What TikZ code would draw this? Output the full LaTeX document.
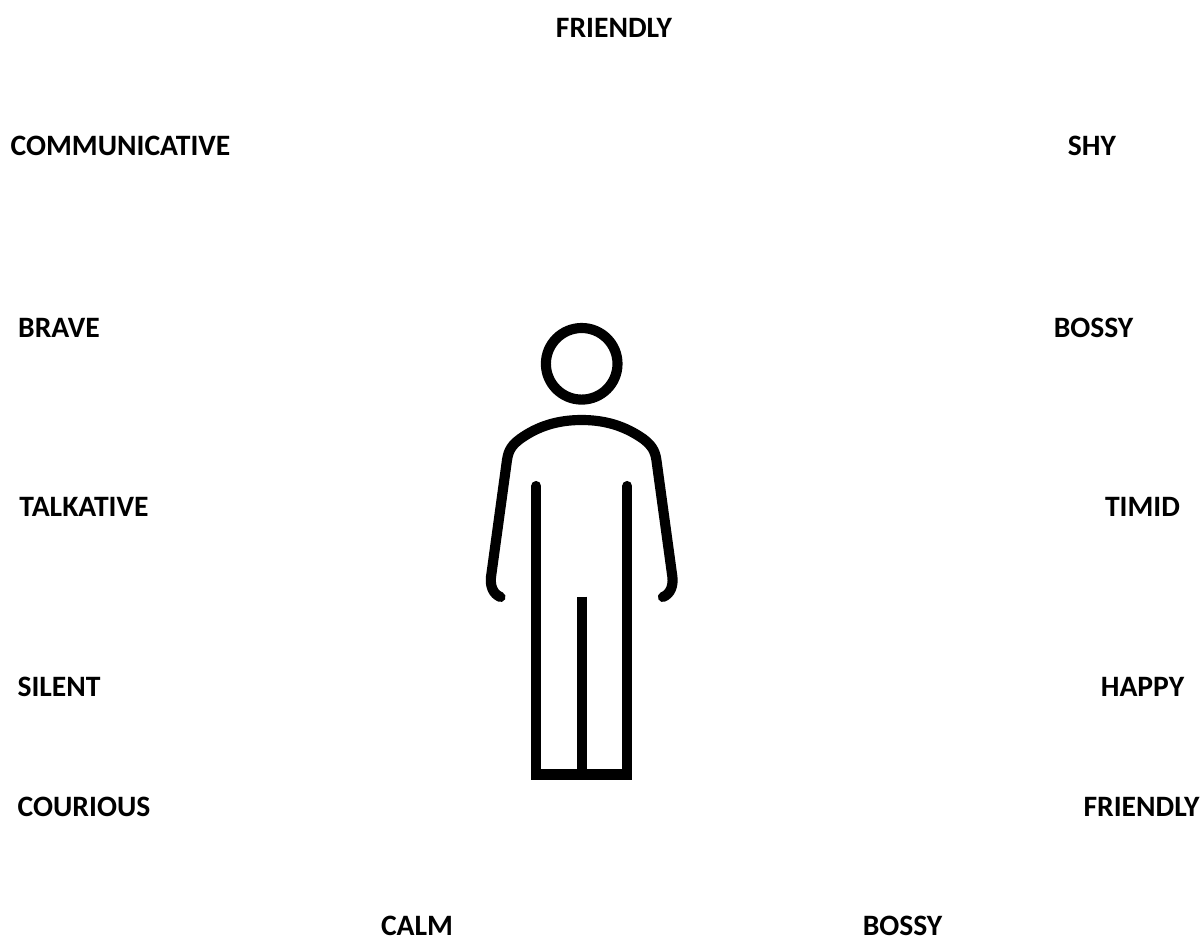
\documentclass[tikz,border=0pt]{standalone}
\usepackage{fontspec}
\setmainfont{Carlito}
\usetikzlibrary{positioning}
\tikzset{
  trait/.style={font=\fontsize{22.2pt}{26pt}\selectfont\bfseries, text=black, inner sep=0pt},
  figline/.style={draw=black, line width=7.6pt, line cap=round, line join=round}
}
\begin{document}
\begin{tikzpicture}[x=1pt, y=-1pt, scale=0.75]
\useasboundingbox (0,0) rectangle (1202,937);
\node[trait] (top) at (614,28) {FRIENDLY};
\node[trait] (comm) at (120.5,146) {COMMUNICATIVE};
\node[trait] (shy) at (1092,146) {SHY};
\node[trait] (brave) at (59,328) {BRAVE};
\node[trait] (bossyr) at (1093.5,328) {BOSSY};
\node[trait] (talk) at (84,507) {TALKATIVE};
\node[trait] (timid) at (1142.5,507) {TIMID};
\node[trait] (silent) at (59,687) {SILENT};
\node[trait] (happy) at (1142.5,687) {HAPPY};
\node[trait] (cour) at (84,807) {COURIOUS};
\node[trait] (friendr) at (1141.5,807) {FRIENDLY};
\node[trait] (calm) at (417,925.5) {CALM};
\node[trait] (bossyb) at (902.5,925.5) {BOSSY};
% person
\draw[figline] (581.7,363.8) circle (35.8);
\draw[figline] (500.5,597) .. controls (493,594) and (490,586) .. (491,577) -- (507,460) .. controls (508.5,450) and (512,445) .. (520,439) .. controls (538,426) and (558,420) .. (581.7,420) .. controls (605,420) and (625,426) .. (643.4,439) .. controls (651,445) and (655,450) .. (656.4,460) -- (672.4,577) .. controls (673.4,586) and (670.4,594) .. (662.9,597);
\draw[figline, line join=miter] (536.3,486) -- (536.3,774.5) -- (627.3,774.5) -- (627.3,486);
\draw[figline, line cap=butt] (582,596.7) -- (582,774.5);
\end{tikzpicture}
\end{document}
